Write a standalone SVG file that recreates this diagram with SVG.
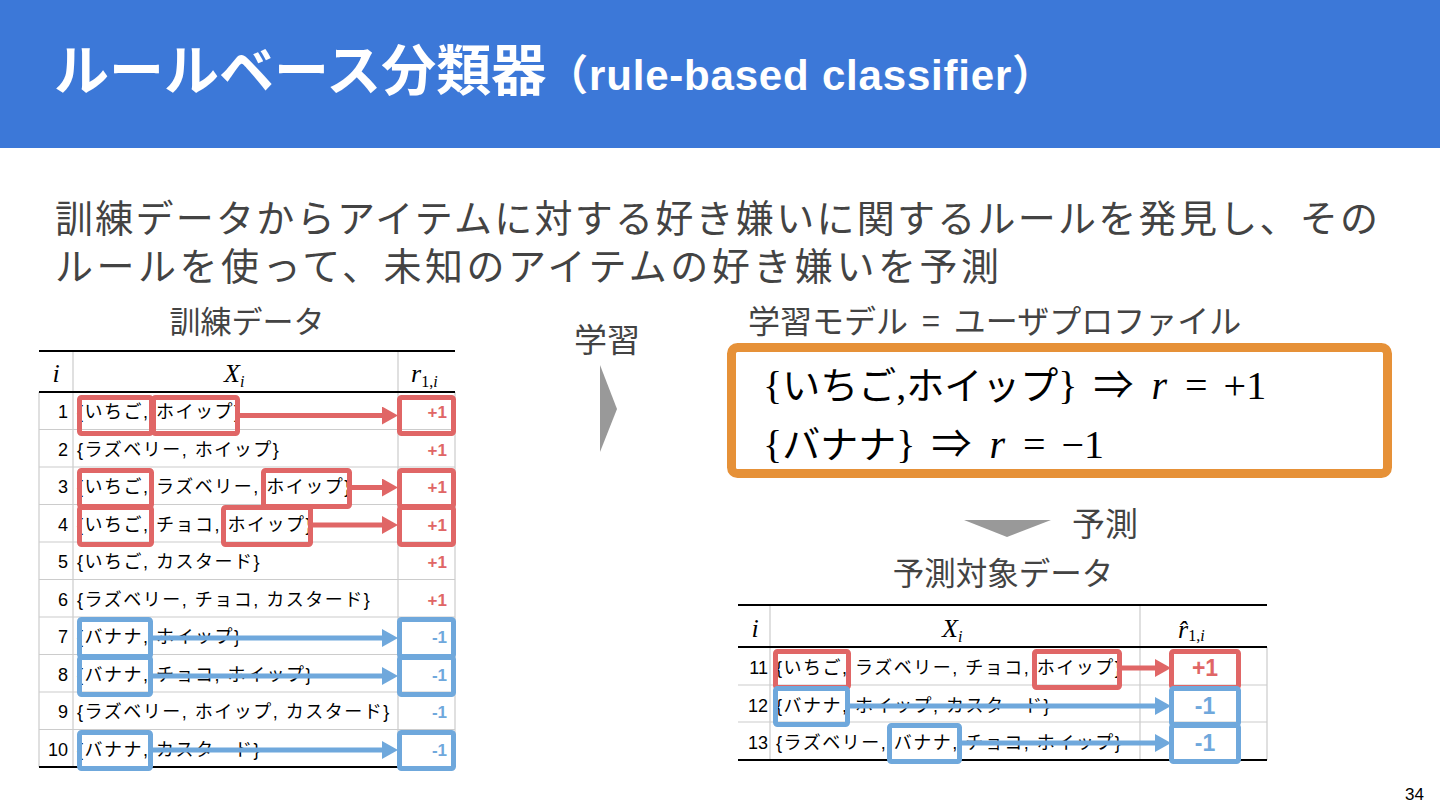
<svg xmlns="http://www.w3.org/2000/svg" width="1440" height="810" viewBox="0 0 1440 810">
<defs>
<style>
.title{font-family:'Noto Sans CJK JP','Liberation Sans',sans-serif;font-weight:bold;fill:#ffffff}
.sub{font-family:'Liberation Sans','Noto Sans CJK JP',sans-serif;font-weight:bold;fill:#ffffff}
.body{font-family:'Noto Sans CJK JP',sans-serif;fill:#434343}
.lbl{font-family:'Noto Sans CJK JP',sans-serif;fill:#434343}
.cell{font-family:'Liberation Sans','Noto Sans CJK JP',sans-serif;font-size:18px;fill:#000000}
.item{letter-spacing:1.5px}
.num{text-anchor:end}
.pos{font-family:'Liberation Sans',sans-serif;font-weight:bold;font-size:17px;fill:#e06666;text-anchor:end}
.neg{font-family:'Liberation Sans',sans-serif;font-weight:bold;font-size:17px;fill:#6fa8dc;text-anchor:end}
.pos2{font-family:'Liberation Sans',sans-serif;font-weight:bold;font-size:23px;fill:#e06666;text-anchor:middle}
.neg2{font-family:'Liberation Sans',sans-serif;font-weight:bold;font-size:23px;fill:#6fa8dc;text-anchor:middle}
.mh{font-family:'Liberation Serif',serif;font-style:italic;font-size:26px;fill:#000000}
.ms{font-family:'Liberation Serif',serif;font-size:16px;fill:#000000}
.grid{stroke:#cccccc;stroke-width:1.2}
.rule{stroke:#000000;stroke-width:2}
.rbox{fill:none;stroke:#e06666;stroke-width:5;stroke-linejoin:round}
.bbox{fill:none;stroke:#6fa8dc;stroke-width:5;stroke-linejoin:round}
.rarr{stroke:#e06666;stroke-width:5;fill:none;marker-end:url(#hr)}
.barr{stroke:#6fa8dc;stroke-width:5;fill:none;marker-end:url(#hb)}
.math{font-family:'Liberation Serif','Noto Sans CJK JP',serif;font-size:40px;fill:#000000}
.mj{font-family:'Noto Sans CJK JP',sans-serif;font-size:38px}
</style>
<marker id="hr" markerUnits="userSpaceOnUse" markerWidth="16" markerHeight="18" viewBox="0 0 16 18" refX="0" refY="9" orient="auto"><path d="M0,0 L16,9 L0,18 z" fill="#e06666"/></marker>
<marker id="hb" markerUnits="userSpaceOnUse" markerWidth="16" markerHeight="18" viewBox="0 0 16 18" refX="0" refY="9" orient="auto"><path d="M0,0 L16,9 L0,18 z" fill="#6fa8dc"/></marker>
</defs>
<rect width="1440" height="810" fill="#ffffff"/>
<g id="header">
<rect x="0" y="0" width="1440" height="148" fill="#3c78d8"/>
<text class="title" x="54" y="90" font-size="55">ルールベース分類器<tspan class="sub" font-size="42" letter-spacing="0.8">（rule-based classifier）</tspan></text>
</g>
<g id="description">
<text class="body" x="55" y="232" font-size="38" textLength="1323" lengthAdjust="spacing">訓練データからアイテムに対する好き嫌いに関するルールを発見し、その</text>
<text class="body" x="55" y="280" font-size="38" textLength="944" lengthAdjust="spacing">ルールを使って、未知のアイテムの好き嫌いを予測</text>
</g>
<g id="training-label"><text class="lbl" x="247" y="333" font-size="31" text-anchor="middle">訓練データ</text></g>
<g id="training-table">
<line class="grid" x1="39" y1="392" x2="39" y2="767"/>
<line class="grid" x1="73" y1="351" x2="73" y2="767"/>
<line class="grid" x1="398" y1="351" x2="398" y2="767"/>
<line class="grid" x1="455" y1="392" x2="455" y2="767"/>
<line class="grid" x1="39" y1="429.5" x2="455" y2="429.5"/>
<line class="grid" x1="39" y1="467" x2="455" y2="467"/>
<line class="grid" x1="39" y1="504.5" x2="455" y2="504.5"/>
<line class="grid" x1="39" y1="542" x2="455" y2="542"/>
<line class="grid" x1="39" y1="579.5" x2="455" y2="579.5"/>
<line class="grid" x1="39" y1="617" x2="455" y2="617"/>
<line class="grid" x1="39" y1="654.5" x2="455" y2="654.5"/>
<line class="grid" x1="39" y1="692" x2="455" y2="692"/>
<line class="grid" x1="39" y1="729.5" x2="455" y2="729.5"/>
<line class="rule" x1="39" y1="351" x2="455" y2="351"/>
<line class="rule" x1="39" y1="392" x2="455" y2="392"/>
<line class="rule" x1="39" y1="767" x2="455" y2="767"/>
<text class="mh" x="56" y="382" text-anchor="middle">i</text>
<text class="mh" x="224" y="382">X<tspan class="ms" font-style="italic" dy="5">i</tspan></text>
<text class="mh" x="411" y="382">r<tspan class="ms" font-style="normal" dy="5">1,</tspan><tspan class="ms" font-style="italic">i</tspan></text>
<g class="cell">
<text class="num" x="68" y="418">1</text><text class="item" x="77" y="418">{いちご, ホイップ}</text>
<text class="num" x="68" y="455.5">2</text><text class="item" x="77" y="455.5">{ラズベリー, ホイップ}</text>
<text class="num" x="68" y="493">3</text><text class="item" x="77" y="493">{いちご, ラズベリー, ホイップ}</text>
<text class="num" x="68" y="530.5">4</text><text class="item" x="77" y="530.5">{いちご, チョコ, ホイップ}</text>
<text class="num" x="68" y="568">5</text><text class="item" x="77" y="568">{いちご, カスタード}</text>
<text class="num" x="68" y="605.5">6</text><text class="item" x="77" y="605.5">{ラズベリー, チョコ, カスタード}</text>
<text class="num" x="68" y="643">7</text><text class="item" x="77" y="643">{バナナ, ホイップ}</text>
<text class="num" x="68" y="680.5">8</text><text class="item" x="77" y="680.5">{バナナ, チョコ, ホイップ}</text>
<text class="num" x="68" y="718">9</text><text class="item" x="77" y="718">{ラズベリー, ホイップ, カスタード}</text>
<text class="num" x="68" y="755.5">10</text><text class="item" x="77" y="755.5">{バナナ, カスタード}</text>
</g>
<text class="pos" x="447" y="418">+1</text>
<text class="pos" x="447" y="455.5">+1</text>
<text class="pos" x="447" y="493">+1</text>
<text class="pos" x="447" y="530.5">+1</text>
<text class="pos" x="447" y="568">+1</text>
<text class="pos" x="447" y="605.5">+1</text>
<text class="neg" x="447" y="643">-1</text>
<text class="neg" x="447" y="680.5">-1</text>
<text class="neg" x="447" y="718">-1</text>
<text class="neg" x="447" y="755.5">-1</text>
</g>
<g id="learn-arrow">
<text class="lbl" x="607" y="352" font-size="33" text-anchor="middle">学習</text>
<polygon points="600,365 617,409 600,452" fill="#999999"/>
</g>
<g id="model">
<text class="lbl" x="748" y="333" font-size="32">学習モデル<tspan dx="14">=</tspan><tspan dx="14">ユーザプロファイル</tspan></text>
<rect x="731.5" y="347.5" width="656" height="126" rx="6" fill="none" stroke="#e69138" stroke-width="9"/>
<text class="math" x="763" y="399">{<tspan class="mj">いちご</tspan>,<tspan class="mj">ホイップ</tspan>}<tspan dx="16">⇒</tspan><tspan dx="18" font-style="italic">r</tspan><tspan dx="18">=</tspan><tspan dx="16">+1</tspan></text>
<text class="math" x="763" y="458">{<tspan class="mj">バナナ</tspan>}<tspan dx="16">⇒</tspan><tspan dx="18" font-style="italic">r</tspan><tspan dx="18">=</tspan><tspan dx="16">−1</tspan></text>
</g>
<g id="predict-arrow">
<polygon points="964,520 1051,520 1007,537" fill="#999999"/>
<text class="lbl" x="1072" y="536" font-size="33">予測</text>
</g>
<g id="test-label"><text class="lbl" x="1003" y="585" font-size="31.5" text-anchor="middle">予測対象データ</text></g>
<g id="test-table">
<line class="grid" x1="770" y1="605" x2="770" y2="760"/>
<line class="grid" x1="1140" y1="605" x2="1140" y2="760"/>
<line class="grid" x1="1267" y1="647" x2="1267" y2="760"/>
<line class="grid" x1="738" y1="685" x2="1267" y2="685"/>
<line class="grid" x1="738" y1="722" x2="1267" y2="722"/>
<line class="rule" x1="738" y1="605" x2="1267" y2="605"/>
<line class="rule" x1="738" y1="647" x2="1267" y2="647"/>
<line class="rule" x1="738" y1="760" x2="1267" y2="760"/>
<text class="mh" x="755" y="637" text-anchor="middle">i</text>
<text class="mh" x="942" y="637">X<tspan class="ms" font-style="italic" dy="5">i</tspan></text>
<text class="mh" x="1178" y="638" font-size="28">r&#x302;<tspan class="ms" font-size="22" font-style="normal" dy="3">1,</tspan><tspan class="ms" font-size="22" font-style="italic">i</tspan></text>
<g class="cell">
<text class="num" x="768" y="674">11</text><text class="item" x="776" y="674">{いちご, ラズベリー, チョコ, ホイップ}</text>
<text class="num" x="768" y="711.5">12</text><text class="item" x="776" y="711.5">{バナナ, ホイップ, カスタード}</text>
<text class="num" x="768" y="749">13</text><text class="item" x="776" y="749">{ラズベリー, バナナ, チョコ, ホイップ}</text>
</g>
<text class="pos2" x="1205" y="676">+1</text>
<text class="neg2" x="1205" y="714">-1</text>
<text class="neg2" x="1205" y="751">-1</text>
</g>
<g id="connectors">
<line class="rarr" x1="240" y1="415.5" x2="382" y2="415.5"/>
<line class="rarr" x1="350" y1="487.5" x2="382" y2="487.5"/>
<line class="rarr" x1="311" y1="525" x2="382" y2="525"/>
<line class="barr" x1="151" y1="638" x2="382" y2="638"/>
<line class="barr" x1="151" y1="676" x2="382" y2="676"/>
<line class="barr" x1="151" y1="750" x2="382" y2="750"/>
<line class="rarr" x1="1120" y1="668" x2="1155" y2="668"/>
<line class="barr" x1="848" y1="706" x2="1155" y2="706"/>
<line class="barr" x1="960" y1="743" x2="1155" y2="743"/>
</g>
<g id="highlights">
<rect class="rbox" x="79.5" y="397.5" width="72" height="36" rx="2"/>
<rect class="rbox" x="153.5" y="397.5" width="84" height="36" rx="2"/>
<rect class="rbox" x="399.5" y="397.5" width="54" height="36" rx="2"/>
<rect class="rbox" x="79.5" y="470.5" width="72" height="36" rx="2"/>
<rect class="rbox" x="263.5" y="470.5" width="86" height="36" rx="2"/>
<rect class="rbox" x="399.5" y="470.5" width="54" height="36" rx="2"/>
<rect class="rbox" x="79.5" y="507.5" width="72" height="37" rx="2"/>
<rect class="rbox" x="223.5" y="507.5" width="87" height="37" rx="2"/>
<rect class="rbox" x="399.5" y="507.5" width="54" height="37" rx="2"/>
<rect class="bbox" x="79.5" y="619.5" width="71" height="37" rx="2"/>
<rect class="bbox" x="79.5" y="657.5" width="71" height="37" rx="2"/>
<rect class="bbox" x="399.5" y="619.5" width="54" height="37" rx="2"/>
<rect class="bbox" x="399.5" y="657.5" width="54" height="37" rx="2"/>
<rect class="bbox" x="79.5" y="732.5" width="71" height="36" rx="2"/>
<rect class="bbox" x="399.5" y="732.5" width="54" height="36" rx="2"/>
<rect class="rbox" x="775.5" y="651.5" width="73" height="36" rx="2"/>
<rect class="rbox" x="1034.5" y="651.5" width="85" height="36" rx="2"/>
<rect class="rbox" x="1171.5" y="651.5" width="67" height="36" rx="2"/>
<rect class="bbox" x="775.5" y="688.5" width="72" height="36" rx="2"/>
<rect class="bbox" x="1171.5" y="688.5" width="67" height="36" rx="2"/>
<rect class="bbox" x="889.5" y="725.5" width="70" height="36" rx="2"/>
<rect class="bbox" x="1171.5" y="725.5" width="67" height="36" rx="2"/>
</g>
<g id="page-number"><text x="1424" y="800" font-family="'Liberation Sans',sans-serif" font-size="17" fill="#000" text-anchor="end">34</text></g>
</svg>
